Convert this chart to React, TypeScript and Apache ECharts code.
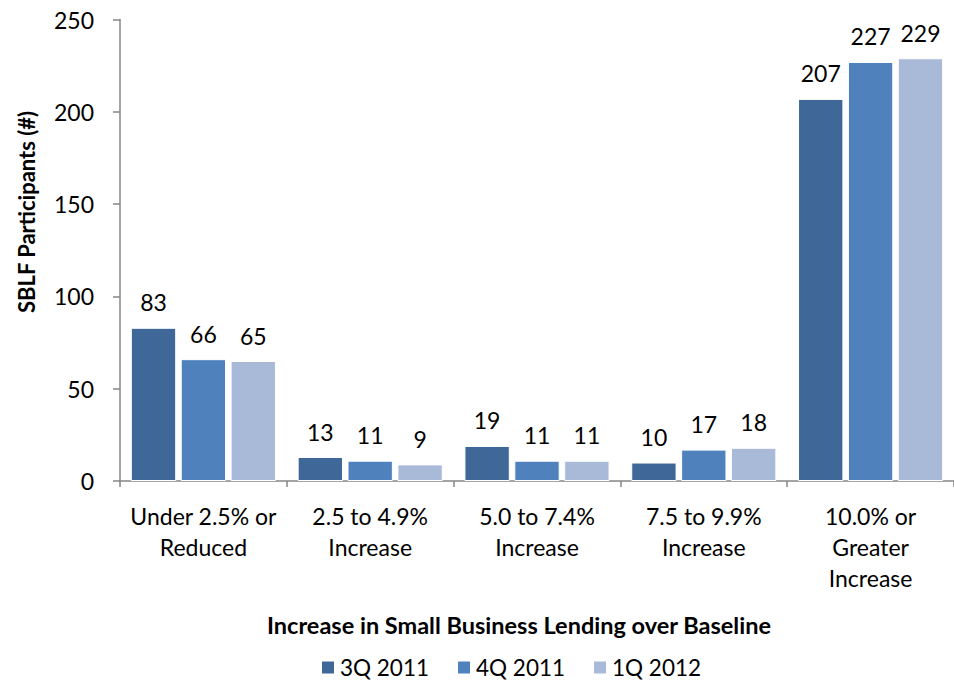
import React, { useEffect, useRef } from "react";
import * as echarts from "echarts";

const categories = [
  "Under 2.5% or\nReduced",
  "2.5 to 4.9%\nIncrease",
  "5.0 to 7.4%\nIncrease",
  "7.5 to 9.9%\nIncrease",
  "10.0% or\nGreater\nIncrease",
];
const seriesNames = ["3Q 2011", "4Q 2011", "1Q 2012"];
const q3_2011 = [83, 13, 19, 10, 207];
const q4_2011 = [66, 11, 11, 17, 227];
const q1_2012 = [65, 9, 11, 18, 229];
const colors = ["#3F6899", "#4F81BD", "#A9B9D8"];
const yTicks = { min: 0, max: 250, interval: 50 };

const FONT = "Lato, 'Open Sans', sans-serif";

export default function App() {
  const ref = useRef<HTMLDivElement>(null);
  useEffect(() => {
    if (!ref.current) return;
    const chart = echarts.init(ref.current, null, { renderer: "svg" });
    const values = [q3_2011, q4_2011, q1_2012];
    chart.setOption({
      animation: false,
      textStyle: { fontFamily: FONT },
      grid: { left: 120, right: -6, top: 19.5, bottom: 205 },
      legend: {
        top: 656,
        left: 320,
        padding: 0,
        data: seriesNames,
        itemWidth: 14,
        itemHeight: 14,
        itemGap: 27,
        icon: "rect",
        textStyle: { fontSize: 22.5, color: "#000", fontFamily: FONT },
      },
      xAxis: {
        type: "category",
        data: categories,
        axisLine: { lineStyle: { color: "#868686", width: 1.5 } },
        axisTick: { show: true, length: 6, lineStyle: { color: "#868686", width: 1.5 } },
        axisLabel: {
          color: "#000",
          fontSize: 23,
          lineHeight: 31,
          margin: 19,
          interval: 0,
          fontFamily: FONT,
        },
        name: "Increase in Small Business Lending over Baseline",
        nameLocation: "middle",
        nameGap: 132,
        nameTextStyle: {
          fontSize: 23.5,
          fontWeight: "bold",
          color: "#000",
          fontFamily: FONT,
          padding: [0, 36, 0, 0],
        },
      },
      yAxis: {
        type: "value",
        min: yTicks.min,
        max: yTicks.max,
        interval: yTicks.interval,
        splitLine: { show: false },
        axisLine: { show: true, lineStyle: { color: "#868686", width: 1.5 } },
        axisTick: { show: true, length: 7, lineStyle: { color: "#868686", width: 1.5 } },
        axisLabel: { color: "#000", fontSize: 23, margin: 26, fontFamily: FONT },
      },
      graphic: [
        {
          type: "text",
          x: 26,
          y: 212,
          rotation: Math.PI / 2,
          style: {
            text: "SBLF Participants (#)",
            fontSize: 22,
            fontWeight: "bold",
            fill: "#000",
            fontFamily: FONT,
            textAlign: "center",
            textVerticalAlign: "middle",
          },
        },
      ],
      series: seriesNames.map((name, i) => ({
        name,
        type: "bar",
        data: values[i],
        barGap: "10%",
        barCategoryGap: "13%",
        itemStyle: { color: colors[i], borderColor: "#fff", borderWidth: 1 },
        label: {
          show: true,
          position: "top",
          distance: 14,
          fontSize: 23,
          color: "#000",
          fontFamily: FONT,
        },
      })),
    });
    return () => chart.dispose();
  }, []);
  return (
    <div
      ref={ref}
      style={{ position: "absolute", left: 0, top: 0, width: 954, height: 686 }}
    />
  );
}
